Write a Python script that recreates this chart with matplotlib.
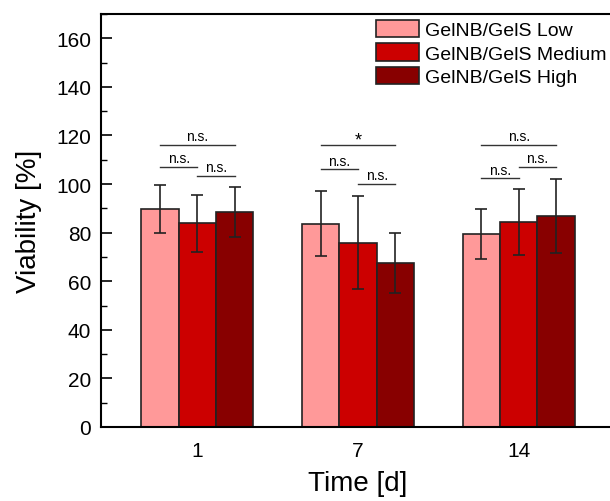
import numpy as np
import matplotlib
matplotlib.use('Agg')
import matplotlib.pyplot as plt
from matplotlib.ticker import MultipleLocator

plt.rcParams['font.family'] = ['Liberation Sans', 'DejaVu Sans']

# data
days = ['1', '7', '14']
groups = ['GelNB/GelS Low', 'GelNB/GelS Medium', 'GelNB/GelS High']
low_mean = [89.8, 83.7, 79.6]
low_err = [10.0, 13.3, 10.3]
med_mean = [83.8, 75.9, 84.5]
med_err = [11.7, 19.2, 13.5]
high_mean = [88.5, 67.6, 86.8]
high_err = [10.2, 12.3, 15.2]

# significance: (pair, height, label) per day
sig_pairs = [(0, 2), (0, 1), (1, 2)]
sig_heights = [[116, 107, 103.3], [116, 106, 100.2], [116, 102.3, 107.2]]
sig_labels = [['n.s.', 'n.s.', 'n.s.'], ['*', 'n.s.', 'n.s.'], ['n.s.', 'n.s.', 'n.s.']]

colors = ['#FF9999', '#CC0000', '#880000']
means = [low_mean, med_mean, high_mean]
errs = [low_err, med_err, high_err]

fig = plt.figure(figsize=(6.1, 5.02), dpi=100)
ax = fig.add_axes([101/610, 74/502, 514/610, 413/502])

x = np.arange(len(days))
w = 0.2325
offs = [-w, 0, w]
for i in range(3):
    ax.bar(x + offs[i], means[i], w, color=colors[i], edgecolor='#222222',
           linewidth=1.2, label=groups[i], zorder=2)
    ax.errorbar(x + offs[i], means[i], yerr=errs[i], fmt='none', ecolor='#222222',
                elinewidth=1.2, capsize=4, capthick=1.2, zorder=3)

for d in range(len(days)):
    for k, (a, b) in enumerate(sig_pairs):
        h = sig_heights[d][k]
        x0 = d + offs[a]
        x1 = d + offs[b]
        ax.plot([x0, x1], [h, h], color='#333333', lw=1.0, zorder=3)
        lab = sig_labels[d][k]
        if lab == '*':
            ax.text((x0 + x1) / 2, h - 1.5, lab, ha='center', va='bottom', fontsize=13)
        else:
            ax.text((x0 + x1) / 2, h + 0.8, lab, ha='center', va='bottom', fontsize=10)

ax.set_xlim(-0.6, 2.6)
ax.set_ylim(0, 170)
ax.set_xticks(x)
ax.set_xticklabels(days)
ax.yaxis.set_major_locator(MultipleLocator(20))
ax.yaxis.set_minor_locator(MultipleLocator(10))
ax.tick_params(axis='y', which='major', direction='in', length=8, width=1.2,
               labelsize=15, pad=7)
ax.tick_params(axis='y', which='minor', direction='in', length=4, width=1.0)
ax.tick_params(axis='x', length=0, pad=10, labelsize=15)
for s in ax.spines.values():
    s.set_linewidth(1.5)

ax.set_ylabel('Viability [%]', fontsize=20, labelpad=10)
ax.set_xlabel('Time [d]', fontsize=20, labelpad=7)

ax.legend(loc='upper left', bbox_to_anchor=(376/610, 1 - 21/502), bbox_transform=fig.transFigure,
          frameon=False, fontsize=14, borderpad=0, borderaxespad=0, handlelength=2.2,
          handleheight=1.0, labelspacing=0.2, handletextpad=0.3)

fig.savefig('out.png', dpi=100)
